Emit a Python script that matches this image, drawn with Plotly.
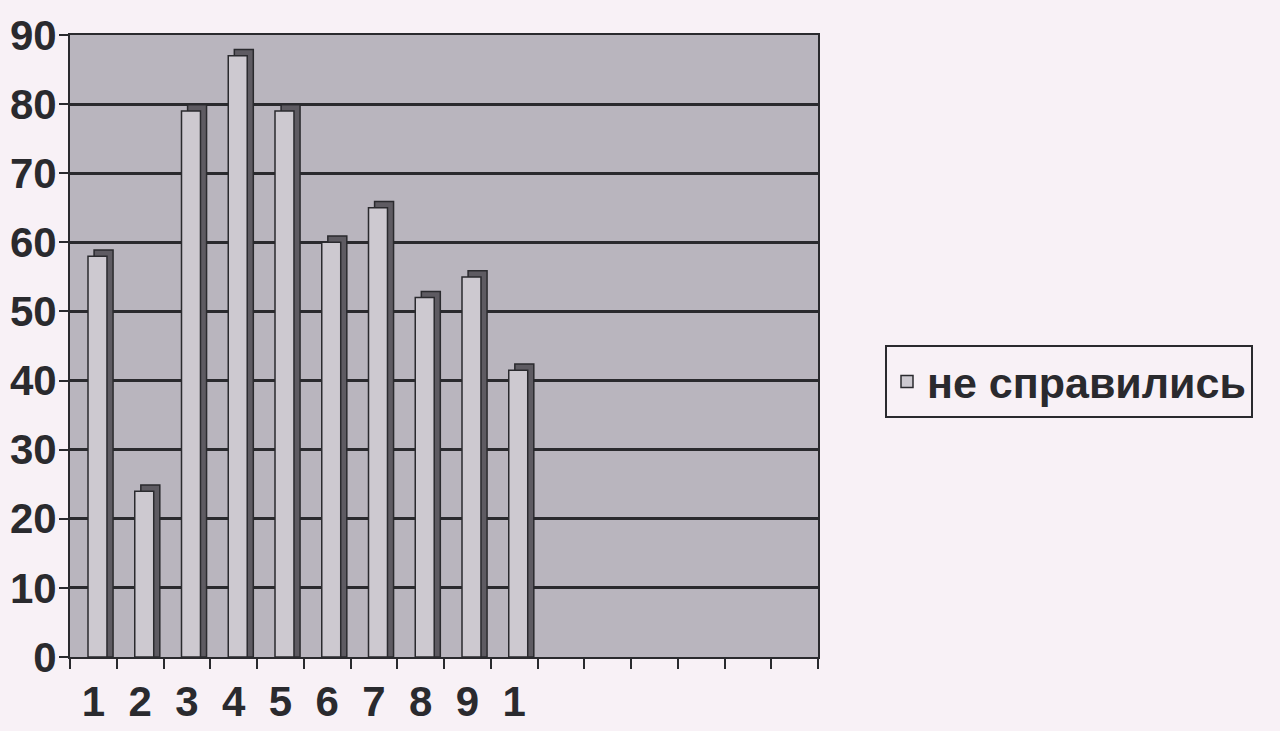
import plotly.graph_objects as go

# --- data ---
categories = [str(i) for i in range(1, 17)]
tick_labels = ["1", "2", "3", "4", "5", "6", "7", "8", "9", "1", "", "", "", "", "", ""]
values = [58, 24, 79, 87, 79, 60, 65, 52, 55, 41.5]
series_name = "не справились"
y_ticks = [0, 10, 20, 30, 40, 50, 60, 70, 80, 90]

bar_cats = categories[:len(values)]
side_values = [v + 0.9 for v in values]

PAGE_BG = "#f8f1f6"
WALL = "#b9b5be"
FRONT = "#cdc9d0"
SIDE = "#5e5b62"
INK = "#2a2a2e"
FONT = "Liberation Sans, Arial, sans-serif"

fig = go.Figure()
# dark side / depth of the 3D bars
fig.add_trace(go.Bar(
    x=bar_cats, y=side_values, offset=0.015, width=0.406,
    marker=dict(color=SIDE, line=dict(color=INK, width=1.5)),
    showlegend=False, hoverinfo="skip",
))
# front face of the bars
fig.add_trace(go.Bar(
    x=bar_cats, y=values, offset=-0.115, width=0.406, name=series_name,
    marker=dict(color=FRONT, line=dict(color=INK, width=1.5)),
))

fig.update_layout(
    width=1280, height=731,
    paper_bgcolor=PAGE_BG, plot_bgcolor=WALL,
    barmode="overlay",
    margin=dict(l=70, r=462, t=35, b=74, autoexpand=False),
    font=dict(family=FONT, color=INK),
    showlegend=True,
    legend=dict(
        x=(885 - 70) / 748, y=(657 - 345) / 622, xanchor="left", yanchor="top",
        bgcolor=PAGE_BG, bordercolor=INK, borderwidth=2,
        font=dict(size=43, family=FONT, color=INK, weight="bold"),
        itemwidth=30,
    ),
    xaxis=dict(
        type="category", categoryorder="array", categoryarray=categories,
        range=[-0.5, len(categories) - 0.5],
        tickmode="array", tickvals=categories, ticktext=tick_labels,
        tickson="boundaries", ticks="outside", ticklen=10, tickwidth=2, tickcolor=INK,
        showgrid=False, showline=True, linecolor=INK, linewidth=2, mirror=True,
        tickfont=dict(size=42, family=FONT, color=INK, weight="bold"),
        ticklabelstandoff=7, automargin=False, fixedrange=True,
    ),
    yaxis=dict(
        range=[0, 90], tickmode="array", tickvals=y_ticks,
        ticks="outside", ticklen=9, tickwidth=2, tickcolor=INK,
        showgrid=True, gridcolor=INK, gridwidth=2.5,
        showline=True, linecolor=INK, linewidth=2, mirror=True,
        zeroline=False,
        tickfont=dict(size=42, family=FONT, color=INK, weight="bold"),
        ticklabelstandoff=-6, automargin=False, fixedrange=True,
    ),
)

fig.write_html(
    "out.html",
    config={"displayModeBar": False},
    post_script="document.body.style.margin='0';document.body.style.background='%s';" % PAGE_BG,
)
